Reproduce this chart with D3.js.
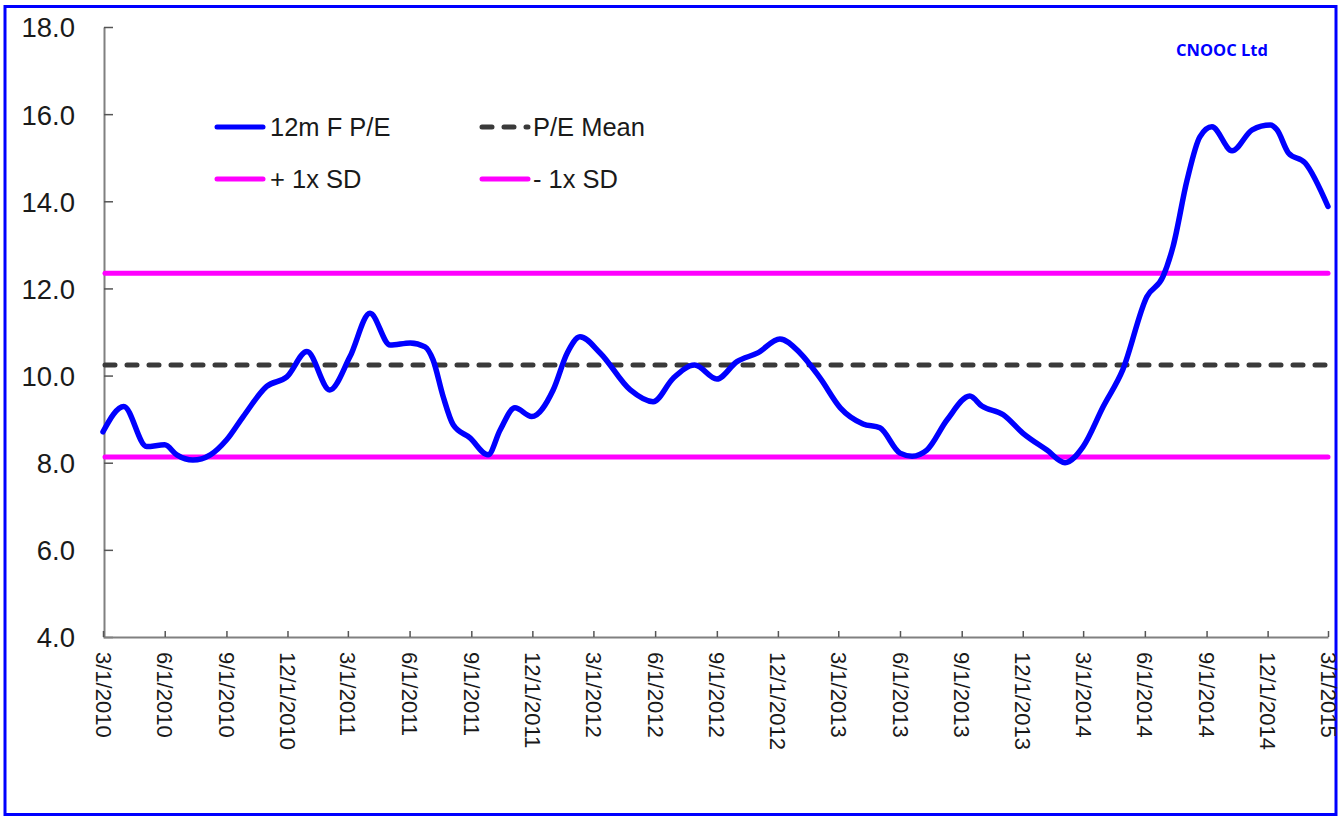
<!DOCTYPE html>
<html>
<head>
<meta charset="utf-8">
<script src="https://cdn.jsdelivr.net/npm/d3@7"></script>
<style>
  html, body { margin: 0; padding: 0; background: #ffffff; }
  svg { display: block; }
  text { font-family: "Liberation Sans", Arial, Helvetica, sans-serif; }
</style>
</head>
<body>
<svg id="chart" width="1343" height="817"></svg>
<script>
// 12-month forward P/E history
const peDates = [
  "2010-03-01","2010-04-01","2010-05-05","2010-06-01","2010-06-19","2010-07-13","2010-08-08",
  "2010-09-01","2010-09-26","2010-10-31","2010-11-30","2010-12-30","2011-02-02","2011-03-04",
  "2011-04-03","2011-05-03","2011-06-02","2011-06-24","2011-07-06","2011-07-21","2011-08-05",
  "2011-08-30","2011-09-26","2011-10-14","2011-11-05","2011-11-30","2012-01-01","2012-01-22",
  "2012-02-10","2012-03-11","2012-04-25","2012-05-29","2012-06-28","2012-07-30","2012-09-01",
  "2012-10-01","2012-11-01","2012-12-04","2013-01-03","2013-02-02","2013-03-04","2013-04-07",
  "2013-05-02","2013-06-01","2013-06-19","2013-07-11","2013-08-10","2013-09-13","2013-10-01",
  "2013-11-02","2013-12-01","2014-01-06","2014-02-02","2014-03-01","2014-03-31","2014-04-29",
  "2014-06-04","2014-06-28","2014-07-13","2014-08-03","2014-08-22","2014-09-09","2014-10-09",
  "2014-11-08","2014-12-05","2014-12-15","2015-01-01","2015-01-26","2015-03-01"
];
const peValues = [
  8.71, 9.29, 8.37, 8.41, 8.18, 8.06, 8.18,
  8.52, 9.06, 9.75, 9.97, 10.55, 9.67, 10.43,
  11.43, 10.70, 10.75, 10.66, 10.36, 9.52, 8.87,
  8.57, 8.18, 8.75, 9.26, 9.06, 9.67, 10.52,
  10.89, 10.52, 9.67, 9.40, 9.94, 10.24, 9.92,
  10.32, 10.52, 10.84, 10.52, 9.94, 9.26, 8.89,
  8.80, 8.22, 8.15, 8.29, 8.98, 9.53, 9.30,
  9.10, 8.68, 8.29, 8.00, 8.37, 9.29, 10.13,
  11.81, 12.27, 12.96, 14.49, 15.48, 15.71, 15.16,
  15.64, 15.75, 15.64, 15.11, 14.88, 13.88
];

// Band levels
const peMean = 10.24;
const plusOneSD = 12.35;
const minusOneSD = 8.13;

// Axis ticks
const xTickLabels = [
  "3/1/2010","6/1/2010","9/1/2010","12/1/2010","3/1/2011","6/1/2011","9/1/2011",
  "12/1/2011","3/1/2012","6/1/2012","9/1/2012","12/1/2012","3/1/2013","6/1/2013",
  "9/1/2013","12/1/2013","3/1/2014","6/1/2014","9/1/2014","12/1/2014","3/1/2015"
];
const yTicks = [4, 6, 8, 10, 12, 14, 16, 18];

const legendItems = [
  { label: "12m F P/E", kind: "pe" },
  { label: "P/E Mean", kind: "mean" },
  { label: "+ 1x SD", kind: "sd" },
  { label: "- 1x SD", kind: "sd" }
];

const chartTitle = "CNOOC Ltd";

const BLUE = "#0000ff";
const MAGENTA = "#ff00ff";
const DARK = "#3a3a3a";
const AXIS = "#808080";

const svg = d3.select("#chart");
const parseIso = d3.timeParse("%Y-%m-%d");
const parseTick = d3.timeParse("%m/%d/%Y");

const series = peDates.map((d, i) => ({ date: parseIso(d), value: peValues[i] }));
const tickDates = xTickLabels.map(s => parseTick(s));

const plotLeft = 103, plotRight = 1328, plotTop = 27, plotBottom = 637;

const x = d3.scaleTime()
  .domain([tickDates[0], tickDates[tickDates.length - 1]])
  .range([plotLeft, plotRight]);
const y = d3.scaleLinear().domain([4, 18]).range([plotBottom, plotTop]);

// Outer frame
svg.append("rect")
  .attr("x", 5).attr("y", 6.5)
  .attr("width", 1331).attr("height", 808)
  .attr("fill", "none")
  .attr("stroke", BLUE)
  .attr("stroke-width", 3);

// Y axis: ticks point into the plot, labels to the left
const yAxis = d3.axisLeft(y)
  .tickValues(yTicks)
  .tickFormat(d3.format(".1f"))
  .tickSizeInner(-9)
  .tickSizeOuter(0)
  .tickPadding(29);
const gy = svg.append("g").attr("transform", `translate(${plotLeft + 1},0)`).call(yAxis);
gy.select(".domain").attr("stroke", AXIS).attr("stroke-width", 2);
gy.selectAll(".tick line").attr("stroke", "#555").attr("stroke-width", 1.5);
gy.selectAll(".tick text")
  .attr("fill", "#1a1a1a")
  .style("font-size", "27.5px")
  .attr("dy", "0.36em");

// X axis: quarterly ticks, labels rotated to read downward
const xAxis = d3.axisBottom(x)
  .tickValues(tickDates)
  .tickFormat((d, i) => xTickLabels[i])
  .tickSizeInner(-6)
  .tickSizeOuter(0);
const gx = svg.append("g").attr("transform", `translate(0,${plotBottom})`).call(xAxis);
gx.select(".domain").attr("stroke", AXIS).attr("stroke-width", 2);
gx.selectAll(".tick line").attr("stroke", "#555").attr("stroke-width", 1.5);
gx.selectAll(".tick text")
  .attr("fill", "#1a1a1a")
  .style("font-size", "22px")
  .attr("text-anchor", "start")
  .attr("transform", "rotate(90)")
  .attr("x", 15)
  .attr("y", 0)
  .attr("dy", "0.36em");

// Horizontal reference lines
const [x0, x1] = x.range();
function hline(v, color, dash) {
  const l = svg.append("line")
    .attr("x1", x0 + 2).attr("x2", x1)
    .attr("y1", y(v)).attr("y2", y(v))
    .attr("stroke", color)
    .attr("stroke-width", 5)
    .attr("stroke-linecap", "round");
  if (dash) l.attr("stroke-dasharray", dash);
  return l;
}
hline(plusOneSD, MAGENTA);
hline(minusOneSD, MAGENTA);
hline(peMean, DARK, "10,12");

// P/E line
const line = d3.line()
  .x(d => x(d.date))
  .y(d => y(d.value))
  .curve(d3.curveMonotoneX);
svg.append("path")
  .datum(series)
  .attr("d", line)
  .attr("fill", "none")
  .attr("stroke", BLUE)
  .attr("stroke-width", 5.5)
  .attr("stroke-linejoin", "round")
  .attr("stroke-linecap", "round");

// Legend
const legendPos = [
  { x: 215, y: 127 }, { x: 480, y: 127 },
  { x: 215, y: 179 }, { x: 480, y: 179 }
];
legendItems.forEach((item, i) => {
  const p = legendPos[i];
  const g = svg.append("g").attr("transform", `translate(${p.x},${p.y})`);
  const ln = g.append("line")
    .attr("x1", 2).attr("x2", 48)
    .attr("y1", 0).attr("y2", 0)
    .attr("stroke-width", 5)
    .attr("stroke-linecap", "round");
  if (item.kind === "pe") ln.attr("stroke", BLUE);
  else if (item.kind === "sd") ln.attr("stroke", MAGENTA);
  else ln.attr("stroke", DARK).attr("stroke-dasharray", "10,12");
  g.append("text")
    .attr("x", item.kind === "mean" || i === 3 ? 53 : 55)
    .attr("y", 0)
    .attr("dy", "0.36em")
    .attr("fill", "#1a1a1a")
    .style("font-size", "25.5px")
    .text(item.label);
});

// Title
svg.append("text")
  .attr("x", 1222).attr("y", 56)
  .attr("text-anchor", "middle")
  .attr("fill", BLUE)
  .style("font-family", "'Open Sans', 'Liberation Sans', Arial, sans-serif")
  .style("font-weight", "bold")
  .style("font-size", "16.5px")
  .text(chartTitle);
</script>
</body>
</html>
